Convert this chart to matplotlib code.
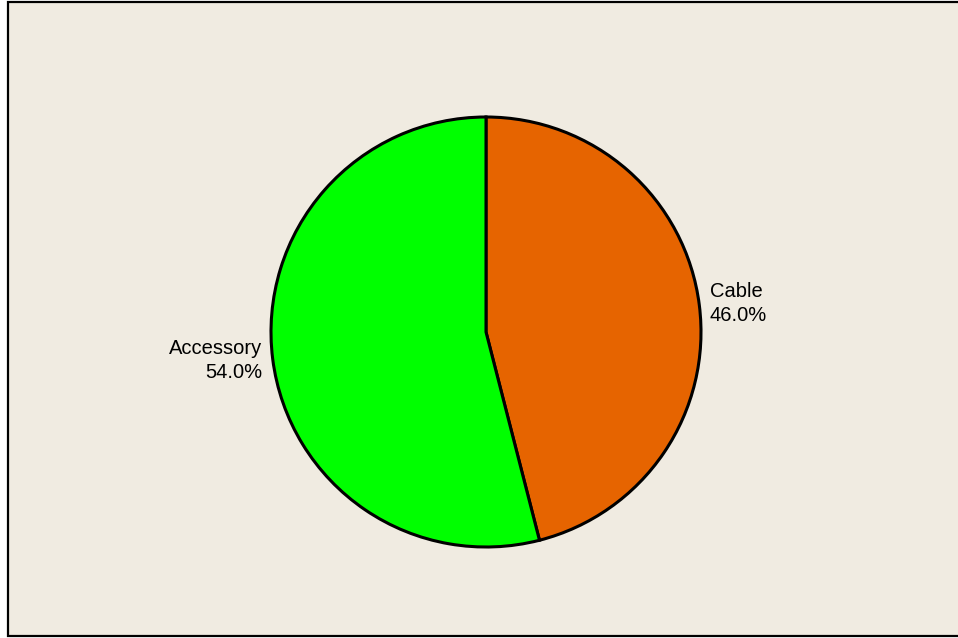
import matplotlib
matplotlib.use("Agg")
import matplotlib.pyplot as plt
from matplotlib.patches import Rectangle

categories = ["Cable", "Accessory"]
percentages = [46.0, 54.0]
colors = ["#E66400", "#00FF00"]

W, H = 958, 638
fig = plt.figure(figsize=(W / 100, H / 100), dpi=100)
fig.patch.set_facecolor("white")
fig.add_artist(Rectangle((8 / W, 2 / H), 1.2, 634 / H, transform=fig.transFigure,
                         facecolor="#F0EBE1", edgecolor="black", linewidth=1.6,
                         zorder=-10))

ax = fig.add_axes([0, 0, 1, 1])
ax.set_zorder(1)
ax.patch.set_alpha(0)

cx, cy = 486, H - 332
labels = [f"{c}\n{p:.1f}%" for c, p in zip(categories, percentages)]
wedges, texts = ax.pie(percentages, labels=labels, colors=colors, startangle=90,
                       counterclock=False, center=(cx, cy), radius=215,
                       labeldistance=1.05, frame=True,
                       wedgeprops=dict(edgecolor="black", linewidth=2.2),
                       textprops=dict(fontsize=14.5, linespacing=1.3,
                                      family=["Liberation Sans", "DejaVu Sans"]))
for t in texts:
    x, y = t.get_position()
    t.set_horizontalalignment("left" if x > cx else "right")
    t.set_verticalalignment("center")

ax.set_xlim(0, W)
ax.set_ylim(0, H)
ax.set_aspect("equal")
ax.axis("off")

fig.savefig("out.png", dpi=100)
